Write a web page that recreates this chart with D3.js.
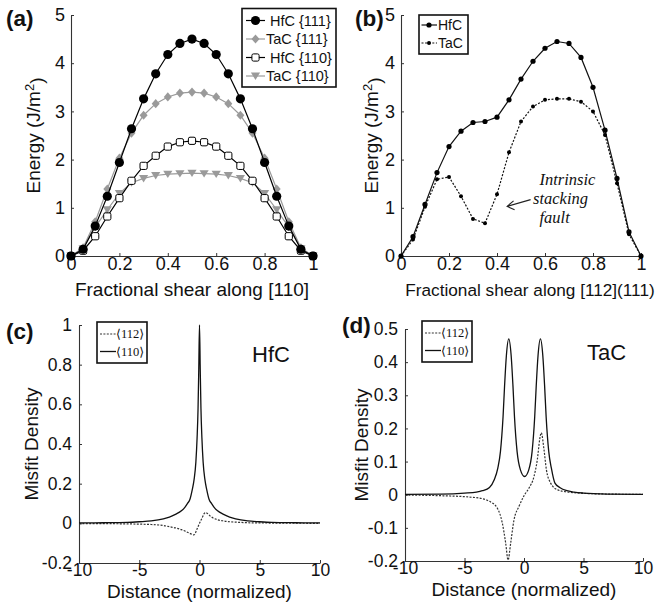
<!DOCTYPE html>
<meta charset="utf-8">
<script src="https://d3js.org/d3.v7.min.js"></script>
<style>
  body { margin: 0; background: #fff; }
  text { font-family: "Liberation Sans", Arial, sans-serif; fill: #111; }
</style>
<div id="fig"></div>
<script>

// (a) fractional shear along [110]
const shearA = [0,0.05,0.1,0.15,0.2,0.25,0.3,0.35,0.4,0.45,0.5,0.55,0.6,0.65,0.7,0.75,0.8,0.85,0.9,0.95,1];
const hfc111 = [0,0.14,0.62,1.24,1.94,2.64,3.26,3.78,4.18,4.41,4.50,4.41,4.18,3.78,3.26,2.64,1.94,1.24,0.62,0.14,0];
const tac111 = [0,0.17,0.71,1.39,2.03,2.55,2.92,3.16,3.30,3.38,3.40,3.38,3.30,3.16,2.92,2.55,2.03,1.39,0.71,0.17,0];
const hfc110 = [0,0.11,0.41,0.82,1.20,1.56,1.87,2.08,2.27,2.36,2.39,2.36,2.27,2.08,1.87,1.56,1.20,0.82,0.41,0.11,0];
const tac110 = [0,0.15,0.60,0.96,1.30,1.52,1.61,1.67,1.70,1.71,1.72,1.71,1.70,1.67,1.61,1.52,1.30,0.96,0.60,0.15,0];
const legendA = [" HfC {111}", "TaC {111}", " HfC {110}", "TaC {110}"];

// (b) fractional shear along [112](111)
const shearB = [0,0.05,0.1,0.15,0.2,0.25,0.3,0.35,0.4,0.45,0.5,0.55,0.6,0.65,0.7,0.75,0.8,0.85,0.9,0.95,1];
const hfcB = [0,0.40,1.07,1.73,2.27,2.59,2.77,2.79,2.88,3.24,3.67,4.04,4.31,4.45,4.41,4.12,3.50,2.61,1.61,0.50,0];
const tacB = [0,0.34,1.02,1.59,1.64,1.24,0.77,0.68,1.28,2.15,2.79,3.10,3.24,3.26,3.26,3.20,3.00,2.51,1.51,0.45,0];
const legendB = ["HfC", "TaC"];

// (c) HfC misfit density
const cX110 = [-10,-8,-6,-5,-4,-3,-2.5,-2,-1.5,-1.2,-1,-0.8,-0.6,-0.45,-0.3,-0.2,-0.12,-0.06,0,0.06,0.12,0.2,0.3,0.45,0.6,0.8,1,1.2,1.5,2,2.5,3,4,5,6,8,10];
const cY110 = [0.002,0.003,0.005,0.008,0.012,0.022,0.031,0.045,0.063,0.082,0.1,0.12,0.17,0.22,0.31,0.43,0.58,0.78,1.0,0.78,0.58,0.43,0.31,0.22,0.17,0.12,0.1,0.082,0.063,0.045,0.031,0.022,0.012,0.008,0.005,0.003,0.002];
const cX112 = [-10,-7,-5,-4,-3,-2.5,-2,-1.5,-1,-0.75,-0.5,-0.4,-0.25,0,0.25,0.4,0.5,0.65,0.9,1.1,1.5,2,2.5,3,4,5,7,10];
const cY112 = [-0.001,-0.002,-0.004,-0.006,-0.011,-0.017,-0.023,-0.032,-0.045,-0.052,-0.058,-0.056,-0.035,0,0.032,0.05,0.054,0.05,0.036,0.028,0.018,0.012,0.008,0.006,0.003,0.002,0.001,0];

// (d) TaC misfit density
const dX110 = [-10,-7,-5,-4,-3.5,-2.9,-2.5,-2.2,-1.98,-1.76,-1.63,-1.48,-1.28,-1.08,-0.93,-0.8,-0.58,-0.3,0.05,0.4,0.68,0.9,1.03,1.18,1.38,1.58,1.73,1.86,2.08,2.3,2.6,3.0,3.6,4.2,5,7,10];
const dY110 = [0.001,0.002,0.005,0.008,0.012,0.022,0.045,0.08,0.13,0.235,0.33,0.42,0.47,0.42,0.33,0.235,0.13,0.075,0.055,0.075,0.13,0.235,0.33,0.42,0.47,0.42,0.33,0.235,0.13,0.08,0.035,0.022,0.012,0.008,0.005,0.002,0.001];
const dX112 = [-10,-7,-4.6,-3.5,-2.9,-2.25,-1.82,-1.54,-1.34,-1.12,-0.84,-0.42,0,0.42,0.84,1.12,1.32,1.45,1.68,1.88,2.24,2.8,3.5,4.6,7,10];
const dY112 = [-0.001,-0.003,-0.007,-0.012,-0.02,-0.04,-0.086,-0.146,-0.197,-0.146,-0.076,-0.035,-0.003,0.02,0.055,0.106,0.167,0.187,0.136,0.076,0.035,0.015,0.009,0.005,0.002,0.001];
const legendCD = ["\u27E8112\u27E9", "\u27E8110\u27E9"];

const gray = "#9a9a9a";

const svg = d3.select("#fig").append("svg")
    .attr("width", 662)
    .attr("height", 610);

// axes in the matlab style: left + bottom only, small inward ticks
function frame(x, y, xt, yt, ypad, fs) {
    const gx = svg.append("g")
        .attr("transform", `translate(0,${y.range()[0]})`)
        .call(d3.axisBottom(x).tickValues(xt).tickSizeInner(-3).tickSizeOuter(0)
            .tickPadding(1).tickFormat(d => String(d)));
    const gy = svg.append("g")
        .attr("transform", `translate(${x.range()[0]},0)`)
        .call(d3.axisLeft(y).tickValues(yt).tickSizeInner(-3).tickSizeOuter(0)
            .tickPadding(ypad).tickFormat(d => String(d)));
    [gx, gy].forEach(g => {
        g.attr("font-size", null).attr("font-family", null);
        g.select(".domain").attr("stroke", "#333").attr("stroke-width", 1.1);
        g.selectAll(".tick line").attr("stroke", "#333");
        g.selectAll(".tick text").attr("fill", "#111").style("font-size", fs + "px");
    });
}

function ytitle(xpos, ycenter, txt, sup) {
    const t = svg.append("text")
        .attr("transform", `translate(${xpos},${ycenter}) rotate(-90)`)
        .attr("text-anchor", "middle")
        .style("font-size", "19px");
    if (sup) {
        t.append("tspan").text(txt);
        t.append("tspan").attr("dy", "-0.5em").style("font-size", "13px").text(sup);
        t.append("tspan").attr("dy", "0.5em").text(")");
    } else {
        t.text(txt);
    }
}

function xtitle(xc, base, txt, fs) {
    svg.append("text").attr("x", xc).attr("y", base)
        .attr("text-anchor", "middle").style("font-size", (fs || 19) + "px").text(txt);
}

function panelLabel(x, y, txt) {
    svg.append("text").attr("x", x).attr("y", y)
        .style("font-size", "22.5px").style("font-weight", "bold").text(txt);
}

function marker(g, type) {
    if (type === "circle") g.append("circle").attr("r", 4.6).attr("fill", "#000");
    if (type === "diamond") g.append("path").attr("d", "M0,-4.6L4,0L0,4.6L-4,0Z").attr("fill", gray);
    if (type === "square") g.append("rect").attr("x", -3.6).attr("y", -3.6).attr("width", 7.2).attr("height", 7.2)
        .attr("rx", 1.6).attr("fill", "#fff").attr("stroke", "#000").attr("stroke-width", 1);
    if (type === "tri") g.append("path").attr("d", "M-4.6,-3.4L4.6,-3.4L0,4Z").attr("fill", gray);
    if (type === "dot") g.append("circle").attr("r", 2.6).attr("fill", "#000");
    if (type === "smalldot") g.append("circle").attr("r", 2).attr("fill", "#000");
}

// ---------- (a)
const xA = d3.scaleLinear().domain([0, 1]).range([71, 313]);
const yA = d3.scaleLinear().domain([0, 5]).range([256, 15]);
frame(xA, yA, [0, 0.2, 0.4, 0.6, 0.8, 1], [0, 1, 2, 3, 4, 5], 6, 18);

const seriesA = [
    {name: legendA[0], vals: hfc111, color: "#000", m: "circle"},
    {name: legendA[1], vals: tac111, color: gray, m: "diamond"},
    {name: legendA[2], vals: hfc110, color: "#000", m: "square"},
    {name: legendA[3], vals: tac110, color: gray, m: "tri"}
];
const lineA = d3.line().x(d => xA(d[0])).y(d => yA(d[1]));
seriesA.slice().reverse().forEach(s => {
    const pts = shearA.map((v, i) => [v, s.vals[i]]);
    svg.append("path").datum(pts).attr("d", lineA)
        .attr("fill", "none").attr("stroke", s.color).attr("stroke-width", 1.2);
    svg.selectAll(null).data(pts).join("g")
        .attr("transform", d => `translate(${xA(d[0])},${yA(d[1])})`)
        .each(function() { marker(d3.select(this), s.m); });
});

// legend (a)
svg.append("rect").attr("x", 242).attr("y", 8.5).attr("width", 94).attr("height", 78.5)
    .attr("fill", "#fff").attr("stroke", "#111").attr("stroke-width", 1.6);
seriesA.forEach((s, i) => {
    const cy = 20.5 + i * 18.5;
    svg.append("line").attr("x1", 246).attr("x2", 265).attr("y1", cy).attr("y2", cy)
        .attr("stroke", s.color).attr("stroke-width", 1.2);
    marker(svg.append("g").attr("transform", `translate(255.5,${cy})`), s.m);
    svg.append("text").attr("x", 266).attr("y", cy).attr("dy", "0.36em")
        .style("font-size", "14.5px").style("white-space", "pre").text(s.name);
});

ytitle(40, 135.5, "Energy (J/m", "2");
xtitle(192, 296, "Fractional shear along [110]");
panelLabel(6, 26, "(a)");

// ---------- (b)
const xB = d3.scaleLinear().domain([0, 1]).range([401, 641]);
const yB = d3.scaleLinear().domain([0, 5]).range([256, 15]);
frame(xB, yB, [0, 0.2, 0.4, 0.6, 0.8, 1], [0, 1, 2, 3, 4, 5], 6, 18);

const lineB = d3.line().x(d => xB(d[0])).y(d => yB(d[1]));
const seriesB = [
    {name: legendB[0], vals: hfcB, dash: null, m: "dot"},
    {name: legendB[1], vals: tacB, dash: "2,1.6", m: "smalldot"}
];
seriesB.forEach(s => {
    const pts = shearB.map((v, i) => [v, s.vals[i]]);
    svg.append("path").datum(pts).attr("d", lineB)
        .attr("fill", "none").attr("stroke", "#111").attr("stroke-width", 1.2)
        .attr("stroke-dasharray", s.dash);
    svg.selectAll(null).data(pts).join("g")
        .attr("transform", d => `translate(${xB(d[0])},${yB(d[1])})`)
        .each(function() { marker(d3.select(this), s.m); });
});

svg.append("rect").attr("x", 419).attr("y", 15).attr("width", 49).attr("height", 39)
    .attr("fill", "#fff").attr("stroke", "#111").attr("stroke-width", 1.6);
seriesB.forEach((s, i) => {
    const cy = 25 + i * 18;
    svg.append("line").attr("x1", 421.5).attr("x2", 437).attr("y1", cy).attr("y2", cy)
        .attr("stroke", "#111").attr("stroke-width", 1.2).attr("stroke-dasharray", s.dash);
    marker(svg.append("g").attr("transform", `translate(429,${cy})`), s.m);
    svg.append("text").attr("x", 438).attr("y", cy).attr("dy", "0.36em")
        .style("font-size", "14px").text(s.name);
});

// annotation
const note = svg.append("text").style("font-family", "'Liberation Serif', 'DejaVu Serif', serif")
    .style("font-style", "italic").style("font-size", "16.5px");
note.append("tspan").attr("x", xB(0.577)).attr("y", 185).text("Intrinsic");
note.append("tspan").attr("x", xB(0.55)).attr("y", 204).text("stacking");
note.append("tspan").attr("x", xB(0.577)).attr("y", 223).text("fault");
const tip = [xB(0.442), yB(1.03)], tail = [xB(0.54), yB(1.17)];
svg.append("path")
    .attr("d", `M${tail[0]},${tail[1]}L${tip[0]},${tip[1]}M${tip[0] + 6.5},${tip[1] - 5.5}L${tip[0]},${tip[1]}L${tip[0] + 7.5},${tip[1] + 3.5}`)
    .attr("fill", "none").attr("stroke", "#222").attr("stroke-width", 1.1);

ytitle(378, 135.5, "Energy (J/m", "2");
xtitle(530, 296, "Fractional shear along [112](111)", 17.2);
panelLabel(355, 26, "(b)");

// ---------- (c) / (d)
function misfit(x, y, xt, yt, ser, legX, legY, mat, matX, matY, tb, yx, lab, labX, labY) {
    frame(x, y, xt, yt, 7, 17.5);
    const line = d3.line().x(d => x(d[0])).y(d => y(d[1])).curve(d3.curveMonotoneX);
    ser.forEach(s => {
        svg.append("path").datum(s.xs.map((v, i) => [v, s.ys[i]])).attr("d", line)
            .attr("fill", "none").attr("stroke", s.color).attr("stroke-width", s.w)
            .attr("stroke-dasharray", s.dash);
    });
    svg.append("rect").attr("x", legX).attr("y", legY).attr("width", 50).attr("height", 41)
        .attr("fill", "#fff").attr("stroke", "#111").attr("stroke-width", 1.6);
    ser.forEach((s, i) => {
        const cy = legY + 12 + i * 17.5;
        svg.append("line").attr("x1", legX + 3).attr("x2", legX + 19).attr("y1", cy).attr("y2", cy)
            .attr("stroke", s.color).attr("stroke-width", s.w).attr("stroke-dasharray", s.dash);
        svg.append("text").attr("x", legX + 19).attr("y", cy).attr("dy", "0.33em")
            .style("font-family", "'Liberation Serif', 'DejaVu Serif', serif")
            .style("font-size", "12.5px").text(s.name);
    });
    svg.append("text").attr("x", matX).attr("y", matY).style("font-size", "22px").text(mat);
    xtitle(d3.mean(x.range()), tb, "Distance (normalized)");
    ytitle(yx, d3.mean(y.range()), "Misfit Density");
    panelLabel(labX, labY, lab);
}

const xC = d3.scaleLinear().domain([-10, 10]).range([79, 320]);
const yC = d3.scaleLinear().domain([-0.2, 1]).range([563, 325]);
misfit(xC, yC, [-10, -5, 0, 5, 10], [-0.2, 0, 0.2, 0.4, 0.6, 0.8, 1], [
    {name: legendCD[0], xs: cX112, ys: cY112, color: "#333", w: 1.2, dash: "2,1.4"},
    {name: legendCD[1], xs: cX110, ys: cY110, color: "#111", w: 1.3, dash: null}
], 97, 322, "HfC", 252, 362, 598, 38, "(c)", 6, 339);

const xD = d3.scaleLinear().domain([-10, 10]).range([405, 643]);
const yD = d3.scaleLinear().domain([-0.2, 0.5]).range([561, 329]);
misfit(xD, yD, [-10, -5, 0, 5, 10], [-0.2, -0.1, 0, 0.1, 0.2, 0.3, 0.4, 0.5], [
    {name: legendCD[0], xs: dX112, ys: dY112, color: "#333", w: 1.2, dash: "2,1.4"},
    {name: legendCD[1], xs: dX110, ys: dY110, color: "#111", w: 1.3, dash: null}
], 422, 321, "TaC", 587, 360, 596, 368, "(d)", 342, 333);

</script>
